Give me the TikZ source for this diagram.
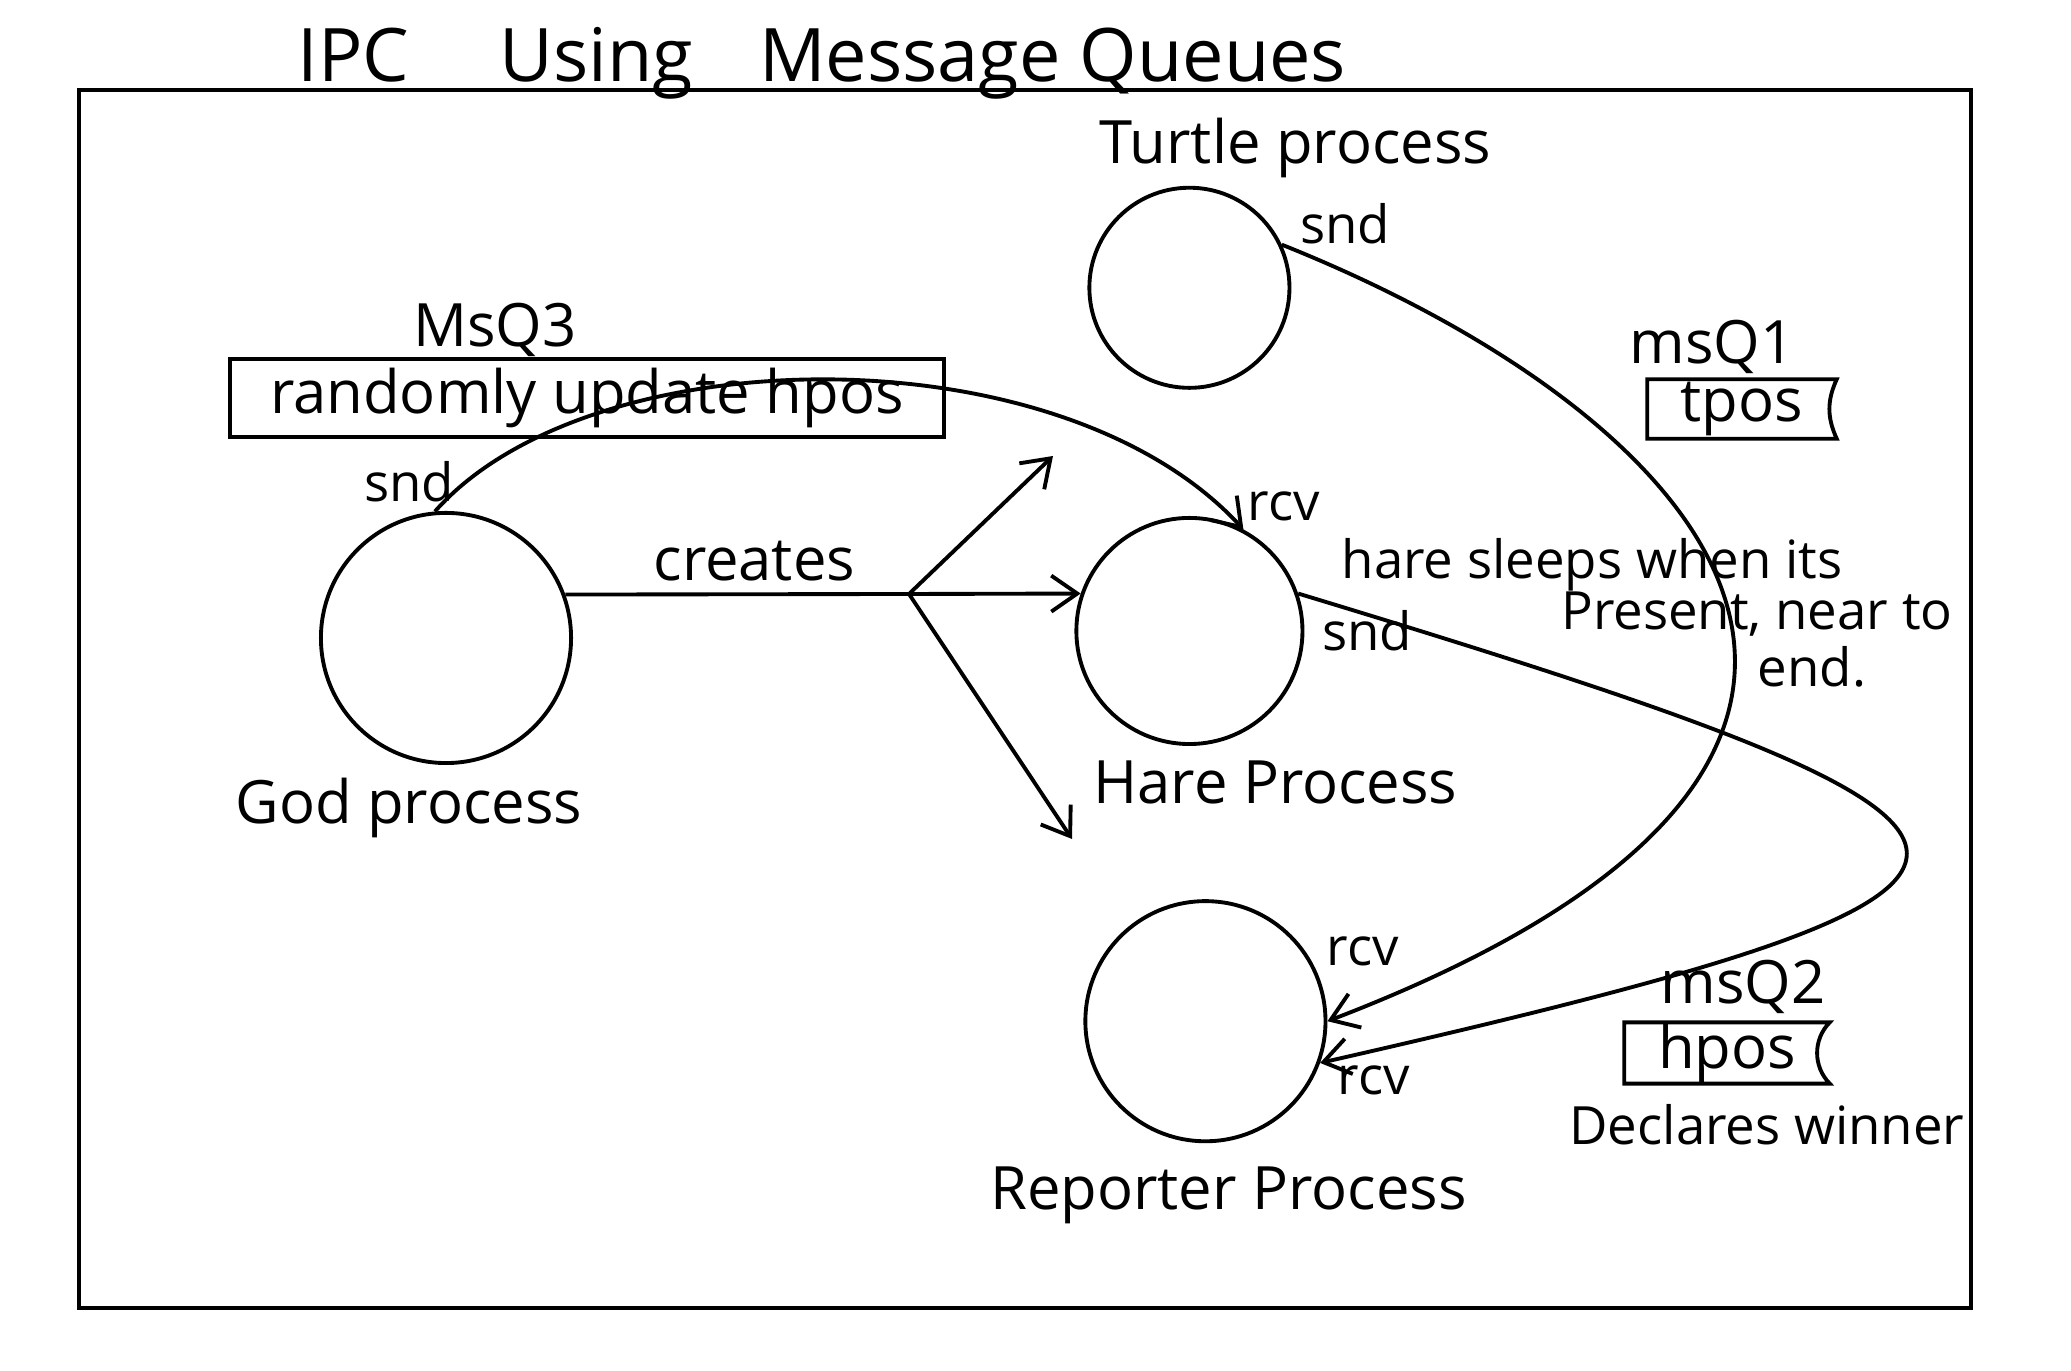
\documentclass[tikz,border=0pt]{standalone}
\usepackage{fontspec}
\setmainfont{Open Sans}
\usetikzlibrary{positioning, arrows.meta}

\begin{document}
\begin{tikzpicture}[
x=0.01cm, y=-0.01cm,
proc/.style={circle, draw=black, line width=1.1pt, inner sep=0pt},
queue/.style={rectangle, inner sep=0pt, font=\fontsize{17}{20}\selectfont},
lbl/.style={font=\fontsize{17}{20}\selectfont},
tag/.style={font=\fontsize{15}{18}\selectfont},
msg/.style={->, line width=1.1pt},
>={Straight Barb[length=2.6mm,width=3.6mm]},
node distance=3cm, on grid
]
\useasboundingbox (0,0) rectangle (2071,1371);
%Frame
\draw[line width=1.2pt] (79,90) rectangle (1971,1308);
\node[font=\fontsize{21}{25}\selectfont, anchor=base] (title) at (822,82) {IPC\hspace{0.9cm}Using\hspace{0.66cm}Message Queues};

%Nodes
\node[proc, minimum size=2.5cm]   (god)  at (446,638)                    {};
\node[proc, minimum size=2.26cm]  (hare)     [right=7.43cm of god, yshift=0.7mm] {};
\node[proc, minimum size=2cm]     (turtle)   [above=3.43cm of hare]      {};
\node[proc, minimum size=2.4cm]   (reporter) [below=3.9cm of hare, xshift=1.6mm] {};

\node[lbl] (godL)      [below=1.7cm of god, xshift=-3.7mm]       {God process};
\node[lbl] (turtleL)   [above=1.4cm of turtle, xshift=10.6mm]    {Turtle process};
\node[lbl] (hareL)     [below=1.51cm of hare, xshift=8.6mm]      {Hare Process};
\node[lbl] (reporterL) [below=1.74cm of reporter, xshift=2.3mm]  {Reporter Process};

%Queues
\node[queue, draw, line width=1.1pt, minimum width=7.14cm, minimum height=0.78cm] (q3) at (587,398) {randomly update hpos};
\node[lbl] (q3L) [above=0.68cm of q3, xshift=-9.2mm] {MsQ3};
\node[queue, minimum width=1.88cm, minimum height=0.58cm] (q1) at (1742,409) {tpos};
\node[lbl] (q1L) [above=0.62cm of q1, xshift=-3mm] {msQ1};
\node[queue, minimum width=2.04cm, minimum height=0.59cm] (q2) at (1727,1053) {hpos};
\node[lbl] (q2L) [above=0.66cm of q2, xshift=1.6mm] {msQ2};
\node[tag] (q2N) [below=0.72cm of q2, xshift=4mm] {Declares winner};

\draw[line width=1.1pt] (q1.north west) -- (q1.north east) to[bend right=25] (q1.south east) -- (q1.south west) -- cycle;
\draw[line width=1.1pt] (q2.north west) -- (q2.north east) to[bend right=45] (q2.south east) -- (q2.south west) -- cycle;

%Tags
\node[tag] (godSnd)    at (409,482)  {snd};
\node[tag] (turtleSnd) at (1345,224) {snd};
\node[tag] (hareRcv)   at (1284,506) {rcv};
\node[tag] (hareSnd)   at (1367,631) {snd};
\node[tag] (repRcvA)   at (1363,951) {rcv};
\node[tag] (repRcvB)   at (1374,1080) {rcv};

\node[tag] (note1) at (1592,565) {hare sleeps when its};
\node[tag] (note2) at (1757,614) {Present, near to};
\node[tag] (note3) at (1812,667) {end.};

%Lines
\coordinate (fork)     at (909,594);
\coordinate (forkUp)   at (1053,456);
\coordinate (forkDown) at (1072,839);
\draw[line width=1.1pt] (god.20) -- (fork) node[lbl, above, pos=0.55] (creates) {creates};
\draw[msg] (fork) -- (hare.161);
\draw[msg] (fork) -- (forkUp);
\draw[msg] (fork) -- (forkDown);

\draw[msg] (god.95) .. controls (590,336) and (1060,330) .. (hare.62);
\draw[msg] (turtle.25) .. controls (1720,420) and (2010,760) .. (reporter.east);
\draw[msg] (hare.19) .. controls (2095,835) and (2115,882) .. (reporter.-20);
\end{tikzpicture}
\end{document}
